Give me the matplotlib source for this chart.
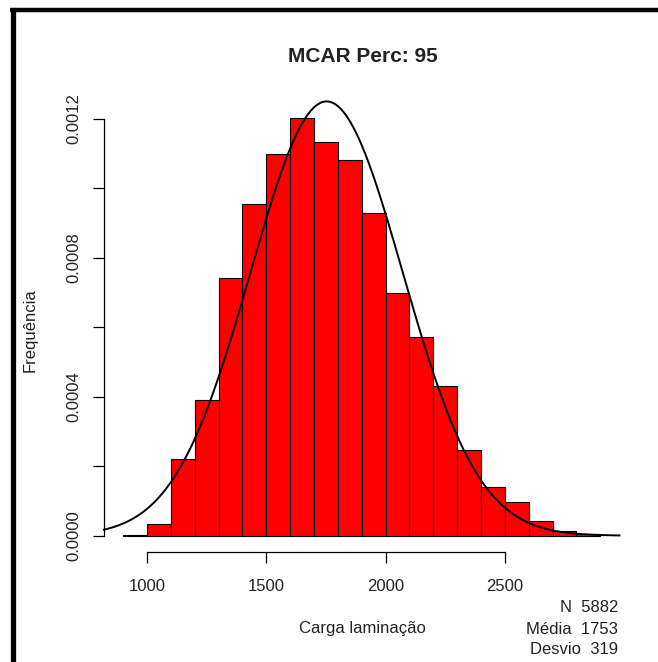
import numpy as np
import matplotlib
matplotlib.use("Agg")
import matplotlib.pyplot as plt
from matplotlib.lines import Line2D

plt.rcParams["font.family"] = ["Liberation Sans", "DejaVu Sans"]

# histogram bins (width 100) and densities
bin_left = [900, 1000, 1100, 1200, 1300, 1400, 1500, 1600, 1700, 1800,
            1900, 2000, 2100, 2200, 2300, 2400, 2500, 2600, 2700, 2800]
densidade = [0.000002, 0.000035, 0.000221, 0.000390, 0.000742, 0.000956,
             0.001100, 0.001202, 0.001133, 0.001082, 0.000929, 0.000700,
             0.000572, 0.000431, 0.000246, 0.000139, 0.000096, 0.000041,
             0.000014, 0.000004]
largura = 100

n_obs = 5882
media = 1753
desvio = 319

x_ticks = [1000, 1500, 2000, 2500]
y_ticks = [0.0, 0.0004, 0.0008, 0.0012]
y_minor = [0.0002, 0.0006, 0.0010]

W, H = 658, 662
fig = plt.figure(figsize=(W / 100, H / 100), dpi=100)
fig.patch.set_facecolor("white")

# frame of the screenshot (top and left)
fig.add_artist(Line2D([10 / W, 1], [1 - 10 / H, 1 - 10 / H], color="black",
                      lw=3.2, transform=fig.transFigure, solid_capstyle="butt"))
fig.add_artist(Line2D([12.5 / W, 12.5 / W], [0, 1 - 8 / H], color="black",
                      lw=3.8, transform=fig.transFigure, solid_capstyle="butt"))

x0, x1 = 104, 619.4
y0, y1 = 101.6, 552.4
ax = fig.add_axes([x0 / W, 1 - y1 / H, (x1 - x0) / W, (y1 - y0) / H])

ax.bar(bin_left, densidade, width=largura, align="edge", color="#FF0000",
       edgecolor="black", linewidth=0.8)

lo = bin_left[0]
hi = bin_left[-1] + largura
ext = 0.04 * (hi - lo)
ax.set_xlim(lo - ext, hi + ext)
ymax = max(densidade)
ax.set_ylim(-0.04 * ymax, 1.04 * ymax)

xs = np.linspace(lo - ext, hi + ext, 400)
ys = np.exp(-0.5 * ((xs - media) / desvio) ** 2) / (desvio * np.sqrt(2 * np.pi))
ax.plot(xs, ys, color="black", lw=1.4, clip_on=False)

for s in ["top", "right"]:
    ax.spines[s].set_visible(False)
ax.spines["bottom"].set_bounds(x_ticks[0], x_ticks[-1])
ax.spines["left"].set_bounds(0, 0.0012)
for s in ["bottom", "left"]:
    ax.spines[s].set_linewidth(0.9)

ax.set_xticks(x_ticks)
ax.set_xticklabels([str(v) for v in x_ticks])
ax.set_yticks(y_ticks)
ax.set_yticklabels([f"{v:.4f}" for v in y_ticks], rotation=90, va="center")
ax.set_yticks(y_minor, minor=True)
ax.tick_params(axis="both", which="both", direction="out", length=8,
               width=0.9, labelsize=12, colors="black", labelcolor="#222222")
ax.tick_params(axis="x", pad=11)
ax.tick_params(axis="y", pad=8)
ax.set_facecolor("none")

fig.text(362.5 / W, 1 - 56 / H, "MCAR Perc: 95", ha="center", va="center",
         fontsize=15, fontweight="bold", color="#222222")
fig.text(30 / W, 1 - 330 / H, "Frequência", ha="center", va="center",
         rotation=90, fontsize=12, color="#222222")
fig.text(362 / W, 1 - 629 / H, "Carga laminação", ha="center", va="center",
         fontsize=12, color="#222222")
fig.text(618 / W, 1 - 607 / H, f"N  {n_obs}", ha="right", va="center",
         fontsize=12, color="#222222")
fig.text(618 / W, 1 - 629 / H, f"Média  {media}", ha="right", va="center",
         fontsize=12, color="#222222")
fig.text(618 / W, 1 - 650 / H, f"Desvio  {desvio}", ha="right", va="center",
         fontsize=12, color="#222222")

fig.savefig("out.png", dpi=100, facecolor="white")
